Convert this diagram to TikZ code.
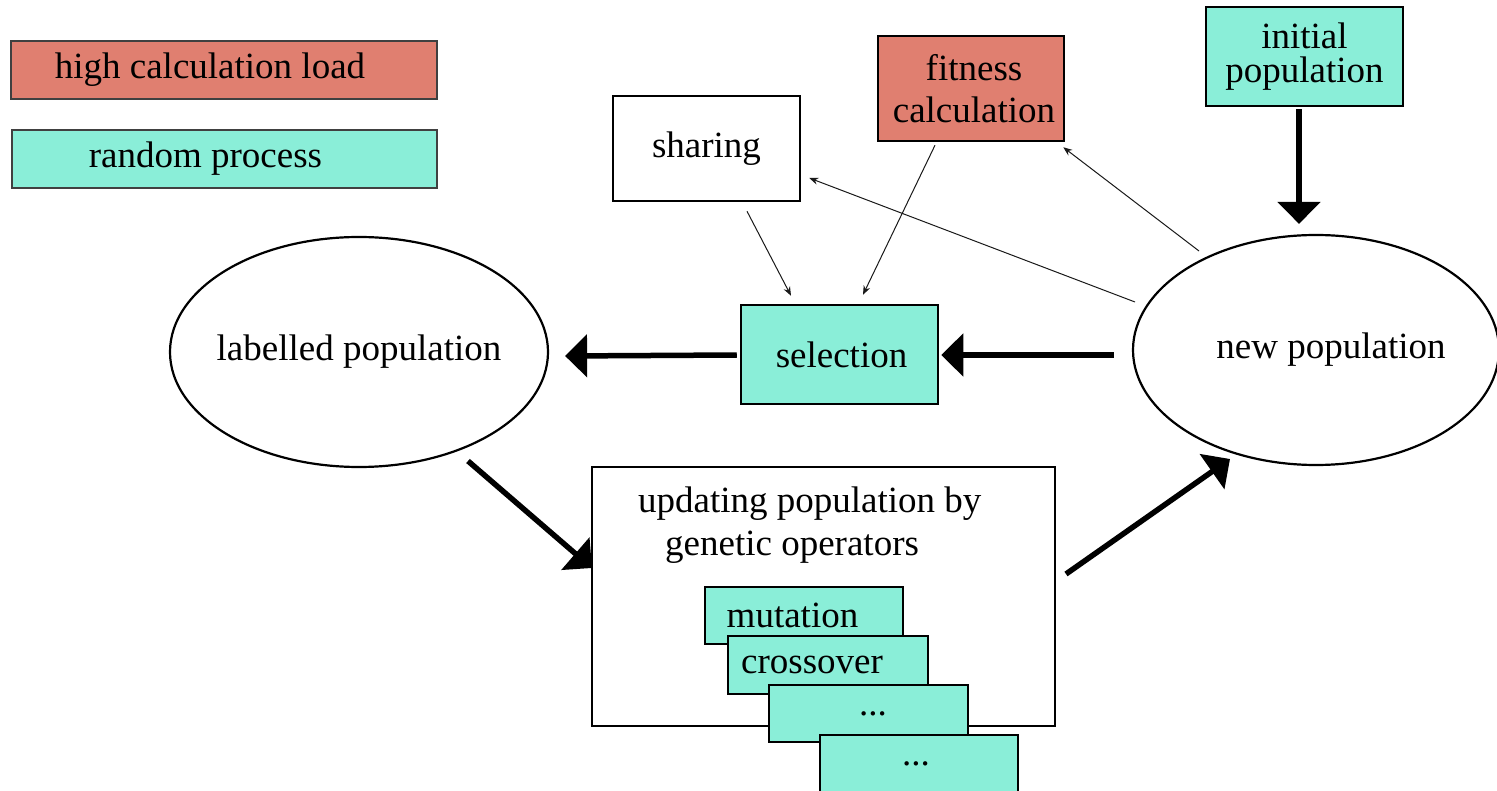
\documentclass[tikz,border=0pt]{standalone}
\usepackage{fontspec}
\setmainfont{Liberation Serif}
\usetikzlibrary{arrows.meta,shapes.geometric,calc,backgrounds}
\definecolor{hotred}{HTML}{E07F70}
\definecolor{randteal}{HTML}{8AEED8}
\newcommand\diagfont{\fontsize{37}{40}\selectfont}
\tikzset{
  box/.style={draw, rectangle, line width=2.5pt, inner sep=0pt, font=\diagfont},
  legendbox/.style={draw=black!75, rectangle, line width=1.5pt, inner sep=0pt, font=\diagfont},
  opbox/.style={draw, rectangle, line width=1.4pt, fill=randteal, inner sep=0pt, font=\diagfont, minimum width=198, minimum height=57},
  popell/.style={draw, ellipse, line width=2.2pt, inner xsep=-12pt, inner ysep=0pt, fill=white, font=\diagfont, minimum height=230},
  bigarrow/.style={line width=5.5pt, -{Triangle[length=22pt,width=42pt]}},
  thinarrow/.style={line width=1pt, draw=black!90, -{Stealth[length=9pt,width=7pt]}}
}
\begin{document}
\begin{tikzpicture}[x=1pt,y=-1pt]
\useasboundingbox (0,0) rectangle (1497,791);
% legend
\node[legendbox, fill=hotred, minimum width=426, minimum height=58] (hcl) at (224,70) {high calculation load\hspace*{28pt}};
\node[legendbox, fill=randteal, minimum width=425, minimum height=58] (rnd) at (224.5,159) {random process\hspace*{38pt}};
% top boxes
\node[box, fill=white, minimum width=187, minimum height=105] (share) at (706.5,148.5) {sharing};
\node[box, fill=hotred, minimum width=186, minimum height=105, align=center, font=\fontsize{37}{42}\selectfont] (fit) at (971,88.5) {\hspace*{6pt}fitness\\\hspace*{6pt}calculation};
\node[box, fill=randteal, minimum width=197, minimum height=99, align=center, font=\fontsize{37}{34}\selectfont] (init) at (1304.5,56.5) {initial\\population};
\node[box, fill=randteal, minimum width=197, minimum height=99] (sel) at (839.5,354.5) {\hspace*{4pt}selection};
% populations
\node[popell, minimum width=378] (lab) at (359,352) {labelled population};
\node[popell, minimum width=366] (newp) at (1316,350) {\hspace*{30pt}new population};
% updating box
\node[box, fill=white, minimum width=463, minimum height=259, line width=2pt] (upd) at (823.5,596.5) {};
\node[anchor=north west, inner sep=0pt, align=left, font=\fontsize{37}{43}\selectfont] (updtext) at (638,487) {updating population by\\\hspace*{27pt}genetic operators};
\node[opbox] (mut) at (804,615.5) {mutation\hspace*{23pt}};
\node[opbox, minimum width=200, minimum height=58] (cross) at (828,665) {crossover\hspace*{32pt}};
\node[opbox, minimum width=199] (dotsa) at (868.5,713.5) {\hspace*{9pt}...};
\node[opbox, minimum height=58] (dotsb) at (919,764) {...\hspace*{6pt}};
% thick arrows
\begin{scope}[on background layer]
\draw[bigarrow] ($(lab.center)+(109,109)$) -- ($(upd.west)+(1,-28.5)$);
\end{scope}
\draw[bigarrow] ($(init.south)+(-5.5,2)$) -- ($(newp.north)+(-17,-10)$);
\draw[bigarrow] ($(newp.west)+(-18,5)$) -- ($(sel.east)+(2,0.5)$);
\draw[bigarrow] ($(sel.west)+(-3,0.5)$) -- ($(lab.east)+(16,4)$);
\draw[bigarrow] ($(upd.east)+(10,-22.5)$) -- ($(newp.center)+(-86,109)$);
% thin arrows
\draw[thinarrow] ($(newp.center)+(-117,-99)$) -- ($(fit.south east)+(-2,5)$);
\draw[thinarrow] ($(newp.center)+(-181,-48)$) -- ($(share.east)+(8,29.5)$);
\draw[thinarrow] ($(share.south)+(40.5,9)$) -- ($(sel.north)+(-48.5,-8)$);
\draw[thinarrow] ($(fit.south)+(-36,3)$) -- ($(sel.north)+(23.5,-9)$);
\end{tikzpicture}
\end{document}
